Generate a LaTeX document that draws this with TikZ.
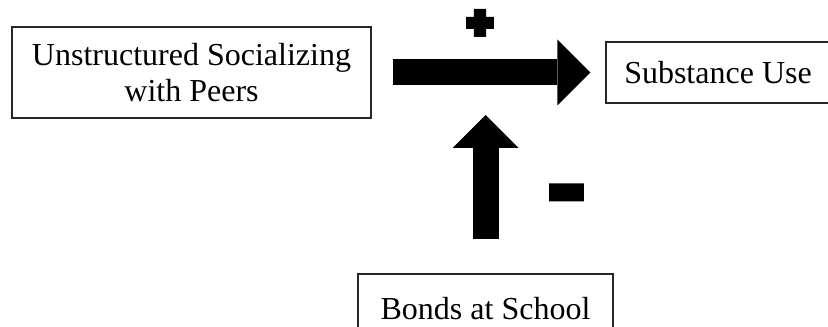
\documentclass[tikz,border=0pt]{standalone}
\usepackage{fontspec}
\setmainfont{Liberation Serif}
\newfontfamily\plusfont[FakeBold=19]{Liberation Sans Bold}
\newfontfamily\minusfont[FakeBold=3]{Liberation Sans Bold}
\usetikzlibrary{arrows.meta,positioning}
\tikzset{
  box/.style={draw=black!85,line width=.6pt,inner sep=0pt,align=center,
    font=\fontsize{16}{18}\selectfont},
  bigarrow/.style={line width=13pt,-{Triangle[width=33pt,length=16.5pt,line width=0pt]}},
  sign/.style={inner sep=0pt,anchor=base},
}
\begin{document}
\begin{tikzpicture}[x=.5pt,y=.5pt]
  \useasboundingbox (0,0) rectangle (828,326);
  \clip (0,0) rectangle (828,326);
  \node[box,minimum width=179.5pt,minimum height=45.5pt] (social) at (191.5,253.5)
    {Unstructured Socializing\\with Peers};
  \node[box,minimum width=112pt,minimum height=30.5pt] (use) at (718,253.5) {Substance Use};
  \node[box,minimum width=127.5pt,minimum height=34.5pt] (bonds) at (485.5,17.5) {Bonds at School};
  \coordinate (hit) at (485.5,211);
  \draw[bigarrow,shorten <=10.5pt,shorten >=7.5pt] (social) -- (use);
  \draw[bigarrow,shorten <=17pt] (bonds) -- (hit);
  \node[sign,font=\plusfont\fontsize{20}{20}\selectfont] (plus) at (480,289.9) {+};
  \node[sign,font=\minusfont\fontsize{61}{61}\selectfont] (minus) at (566.5,102) {-};
\end{tikzpicture}
\end{document}
